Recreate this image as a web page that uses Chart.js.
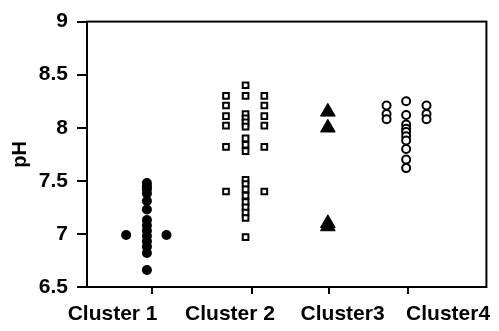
<!DOCTYPE html>
<html>
<head>
<meta charset="utf-8">
<script src="https://cdn.jsdelivr.net/npm/chart.js@4.4.1/dist/chart.umd.min.js"></script>
<style>
  html, body { margin: 0; padding: 0; background: #fff; }
  #wrap { width: 499px; height: 331px; }
</style>
</head>
<body>
<div id="wrap"><canvas id="ph_chart"></canvas></div>
<script>
// x runs 0..100; tick marks and category labels do not line up in the original
var categories = ['Cluster 1', 'Cluster 2', 'Cluster3', 'Cluster4'];
var categoryTickX = [16.2, 41.4, 60.5, 80.4];
var categoryLabelX = [6.4, 35.8, 64.0, 90.4];
var yTicks = [6.5, 7, 7.5, 8, 8.5, 9];

// pH values, with the x column they sit in
var c1X  = [15, 15, 15, 15, 15, 15, 15, 15, 15, 15, 15, 15, 15, 15, 9.8, 19.9];
var c1pH = [7.48, 7.45, 7.42, 7.38, 7.31, 7.23, 7.13, 7.08, 7.03, 6.98, 6.93, 6.88, 6.82, 6.66, 6.99, 6.99];

var c2X  = [34.8, 34.8, 34.8, 34.8, 34.8, 34.8,
            44.4, 44.4, 44.4, 44.4, 44.4, 44.4,
            39.7, 39.7, 39.7, 39.7, 39.7, 39.7, 39.7, 39.7, 39.7, 39.7,
            39.7, 39.7, 39.7, 39.7, 39.7, 39.7, 39.7, 39.7];
var c2pH = [8.3, 8.21, 8.11, 8.02, 7.82, 7.4,
            8.3, 8.21, 8.11, 8.02, 7.82, 7.4,
            8.4, 8.3, 8.13, 8.09, 8.05, 8.01, 7.9, 7.84, 7.78, 7.51,
            7.47, 7.42, 7.36, 7.3, 7.25, 7.2, 7.15, 6.97];

var c3X  = [60.3, 60.3, 60.3, 60.3];
var c3pH = [8.15, 8.0, 7.1, 7.07];

var c4X  = [75, 75, 75, 85, 85, 85,
            79.9, 79.9, 79.9, 79.9, 79.9, 79.9, 79.9, 79.9, 79.9, 79.9];
var c4pH = [8.21, 8.13, 8.08, 8.21, 8.13, 8.08,
            8.25, 8.12, 8.03, 7.99, 7.96, 7.92, 7.88, 7.8, 7.7, 7.62];

function pts(xs, ys) {
  return ys.map(function (v, i) { return { x: xs[i], y: v }; });
}

var FONT = 'Liberation Sans, Arial, sans-serif';

// box round the plot area (top and right sides too)
var frame = {
  id: 'frame',
  beforeDatasetsDraw: function (chart) {
    var a = chart.chartArea, ctx = chart.ctx;
    ctx.save();
    ctx.strokeStyle = '#000';
    ctx.lineWidth = 2;
    ctx.strokeRect(a.left, a.top, a.right - a.left, a.bottom - a.top);
    ctx.restore();
  }
};

new Chart(document.getElementById('ph_chart'), {
  type: 'scatter',
  data: {
    datasets: [
      { data: pts(c1X, c1pH), pointStyle: 'circle', pointRadius: 5, backgroundColor: '#000', borderColor: '#000', borderWidth: 0 },
      { data: pts(c2X, c2pH), pointStyle: 'rect', pointRadius: 4, backgroundColor: '#fff', borderColor: '#000', borderWidth: 2 },
      { data: pts(c3X, c3pH), pointStyle: 'triangle', pointRadius: 8.5, backgroundColor: '#000', borderColor: '#000', borderWidth: 1 },
      { data: pts(c4X, c4pH), pointStyle: 'circle', pointRadius: 4, backgroundColor: '#fff', borderColor: '#000', borderWidth: 2 }
    ]
  },
  options: {
    responsive: true,
    maintainAspectRatio: false,
    animation: false,
    events: [],
    layout: { padding: { top: 16, right: 4, bottom: 0, left: 0 } },
    plugins: { legend: { display: false }, tooltip: { enabled: false } },
    scales: {
      x: {
        type: 'linear',
        min: 0, max: 100,
        afterBuildTicks: function (axis) {
          axis.ticks = categoryTickX.concat(categoryLabelX).map(function (v) { return { value: v }; });
        },
        afterFit: function (axis) { axis.height = 44; },
        ticks: {
          color: '#000',
          padding: 8,
          maxRotation: 0,
          autoSkip: false,
          font: { family: FONT, size: 21, weight: 'bold' },
          callback: function (value) {
            var i = categoryLabelX.indexOf(value);
            return i < 0 ? '' : categories[i];
          }
        },
        grid: {
          drawOnChartArea: false, lineWidth: 2, tickLength: 7,
          color: function (ctx) {
            return ctx.tick && categoryTickX.indexOf(ctx.tick.value) >= 0 ? '#000' : 'rgba(0,0,0,0)';
          }
        },
        border: { color: '#000', width: 2 }
      },
      y: {
        min: 6.5, max: 9,
        afterBuildTicks: function (axis) {
          axis.ticks = yTicks.map(function (v) { return { value: v }; });
        },
        afterFit: function (axis) { axis.width = 87; },
        title: {
          display: true, text: 'pH', color: '#000',
          padding: { top: 8, bottom: 0 },
          font: { family: FONT, size: 20, weight: 'bold' }
        },
        ticks: {
          color: '#000',
          padding: 9,
          font: { family: FONT, size: 21, weight: 'bold' },
          callback: function (value) { return String(value); }
        },
        grid: { drawOnChartArea: false, color: '#000', lineWidth: 2, tickLength: 10 },
        border: { color: '#000', width: 2 }
      }
    }
  },
  plugins: [frame]
});
</script>
</body>
</html>
